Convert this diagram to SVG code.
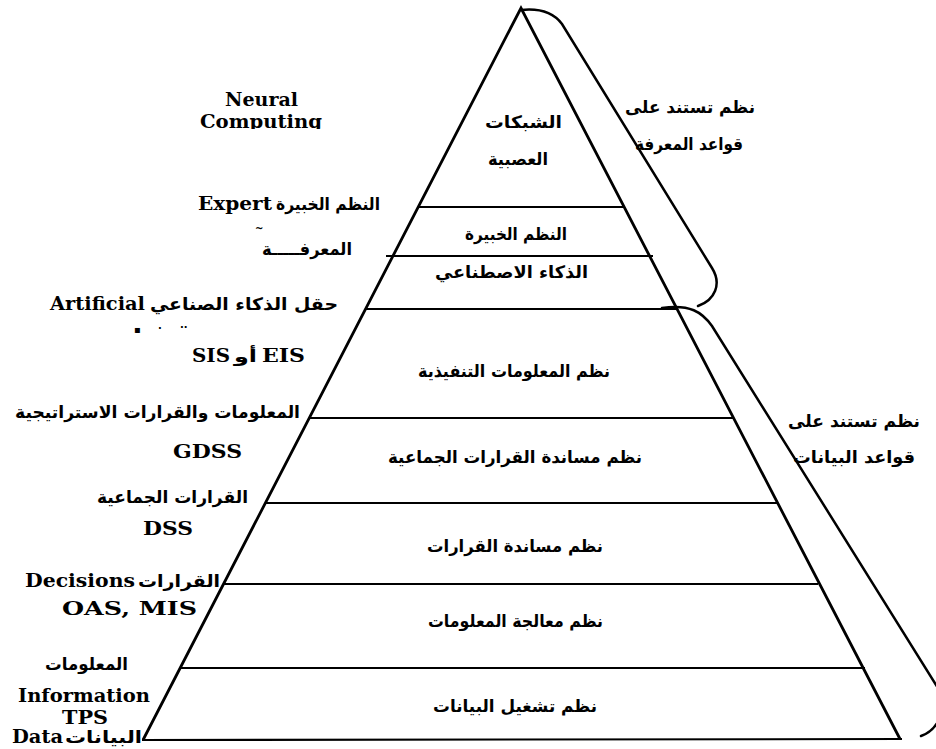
<svg xmlns="http://www.w3.org/2000/svg" width="936" height="749" viewBox="0 0 936 749">
<defs>
<clipPath id="cutComputing"><rect x="180" y="110" width="160" height="19"/></clipPath>
</defs>
<style>
.bg{fill:#fff}
.edge{fill:none;stroke:#000;stroke-width:2.8;stroke-linejoin:miter}
.tier{stroke:#000;stroke-width:2.1;fill:none}
.br{fill:none;stroke:#000;stroke-width:2.5;stroke-linecap:round}
.ar{font-family:"DejaVu Sans",sans-serif;font-weight:bold;font-size:17px;fill:#000}
.en{font-family:"DejaVu Serif","Liberation Serif",serif;font-weight:bold;font-size:19px;fill:#000}
.mk{font-family:"DejaVu Sans",sans-serif;font-weight:bold;font-size:10px;fill:#000}
</style>
<rect class="bg" x="0" y="0" width="936" height="749"/>
<g id="pyramid">
<polyline class="edge" points="143,740 521,8 900,739"/>
<line class="tier" x1="142" y1="740" x2="902" y2="739"/>
</g>
<g id="connectors">
<line class="tier" x1="418" y1="207" x2="624" y2="207"/>
<line class="tier" x1="386" y1="256" x2="653" y2="256"/>
<line class="tier" x1="366" y1="309" x2="677" y2="309"/>
<line class="tier" x1="309" y1="418" x2="733" y2="418"/>
<line class="tier" x1="265" y1="503" x2="777" y2="503"/>
<line class="tier" x1="224" y1="584" x2="818" y2="584"/>
<line class="tier" x1="181" y1="668" x2="865" y2="668"/>
</g>
<g id="bracket-knowledge">
<path class="br" d="M521,10 C540,8 553,12 562,24 L712,268 C722,284 715,300 698,306"/>
</g>
<g id="bracket-data">
<path class="br" d="M662,308 C690,304 702,312 712,326 L938,688 C950,706 938,730 921,736"/>
</g>
<g id="tier-neural">
<text class="ar" x="485" y="128" textLength="77" lengthAdjust="spacingAndGlyphs">الشبكات</text>
<text class="ar" x="488" y="165" textLength="60" lengthAdjust="spacingAndGlyphs">العصبية</text>
</g>
<g id="tier-expert">
<text class="ar" x="465" y="240" textLength="102" lengthAdjust="spacingAndGlyphs">النظم الخبيرة</text>
</g>
<g id="tier-ai">
<text class="ar" x="435" y="278" textLength="153" lengthAdjust="spacingAndGlyphs">الذكاء الاصطناعي</text>
</g>
<g id="tier-eis">
<text class="ar" x="418" y="377" textLength="192" lengthAdjust="spacingAndGlyphs">نظم المعلومات التنفيذية</text>
</g>
<g id="tier-gdss">
<text class="ar" x="388" y="463" textLength="254" lengthAdjust="spacingAndGlyphs">نظم مساندة القرارات الجماعية</text>
</g>
<g id="tier-dss">
<text class="ar" x="427" y="552" textLength="176" lengthAdjust="spacingAndGlyphs">نظم مساندة القرارات</text>
</g>
<g id="tier-mis">
<text class="ar" x="428" y="627" textLength="175" lengthAdjust="spacingAndGlyphs">نظم معالجة المعلومات</text>
</g>
<g id="tier-tps">
<text class="ar" x="433" y="712" textLength="164" lengthAdjust="spacingAndGlyphs">نظم تشغيل البيانات</text>
</g>
<g id="left-labels">
<text class="en" x="225" y="106" textLength="73" lengthAdjust="spacingAndGlyphs">Neural</text>
<text class="en" x="200" y="128" textLength="122" lengthAdjust="spacingAndGlyphs" clip-path="url(#cutComputing)">Computing</text>
<text class="en" x="198" y="210" textLength="74" lengthAdjust="spacingAndGlyphs">Expert</text>
<text class="ar" x="276" y="210" textLength="104" lengthAdjust="spacingAndGlyphs">النظم الخبيرة</text>
<text class="mk" x="255" y="232">~</text>
<text class="ar" x="262" y="255" textLength="90" lengthAdjust="spacingAndGlyphs">المعرفـــــة</text>
<text class="en" x="50" y="310" textLength="95" lengthAdjust="spacingAndGlyphs">Artificial</text>
<text class="ar" x="150" y="310" textLength="188" lengthAdjust="spacingAndGlyphs">حقل الذكاء الصناعي</text>
<text class="mk" x="134" y="333" font-size="7">▪</text>
<text class="mk" x="158" y="332">·</text>
<text class="mk" x="180" y="331">··</text>
<text class="en" x="192" y="362" textLength="38" lengthAdjust="spacingAndGlyphs">SIS</text>
<text class="ar" x="234" y="362" textLength="23" lengthAdjust="spacingAndGlyphs">أو</text>
<text class="en" x="262" y="362" textLength="43" lengthAdjust="spacingAndGlyphs">EIS</text>
<text class="ar" x="15" y="418" textLength="285" lengthAdjust="spacingAndGlyphs">المعلومات والقرارات الاستراتيجية</text>
<text class="en" x="173" y="458" textLength="69" lengthAdjust="spacingAndGlyphs">GDSS</text>
<text class="ar" x="97" y="503" textLength="151" lengthAdjust="spacingAndGlyphs">القرارات الجماعية</text>
<text class="en" x="143" y="535" textLength="50" lengthAdjust="spacingAndGlyphs">DSS</text>
<text class="en" x="25" y="587" textLength="110" lengthAdjust="spacingAndGlyphs">Decisions</text>
<text class="ar" x="138" y="587" textLength="82" lengthAdjust="spacingAndGlyphs">القرارات</text>
<text class="en" x="62" y="615" textLength="135" lengthAdjust="spacingAndGlyphs">OAS, MIS</text>
<text class="ar" x="45" y="670" textLength="83" lengthAdjust="spacingAndGlyphs">المعلومات</text>
<text class="en" x="18" y="702" textLength="132" lengthAdjust="spacingAndGlyphs">Information</text>
<text class="en" x="62" y="724" font-size="18" textLength="46" lengthAdjust="spacingAndGlyphs">TPS</text>
<text class="en" x="12" y="743" textLength="51" lengthAdjust="spacingAndGlyphs">Data</text>
<text class="ar" x="65" y="743" textLength="77" lengthAdjust="spacingAndGlyphs">البيانات</text>
</g>
<g id="right-labels">
<text class="ar" x="625" y="113" textLength="130" lengthAdjust="spacingAndGlyphs">نظم تستند على</text>
<text class="ar" x="635" y="150" textLength="108" lengthAdjust="spacingAndGlyphs">قواعد المعرفة</text>
<text class="ar" x="788" y="427" textLength="132" lengthAdjust="spacingAndGlyphs">نظم تستند على</text>
<text class="ar" x="793" y="463" textLength="122" lengthAdjust="spacingAndGlyphs">قواعد البيانات</text>
</g>
</svg>
